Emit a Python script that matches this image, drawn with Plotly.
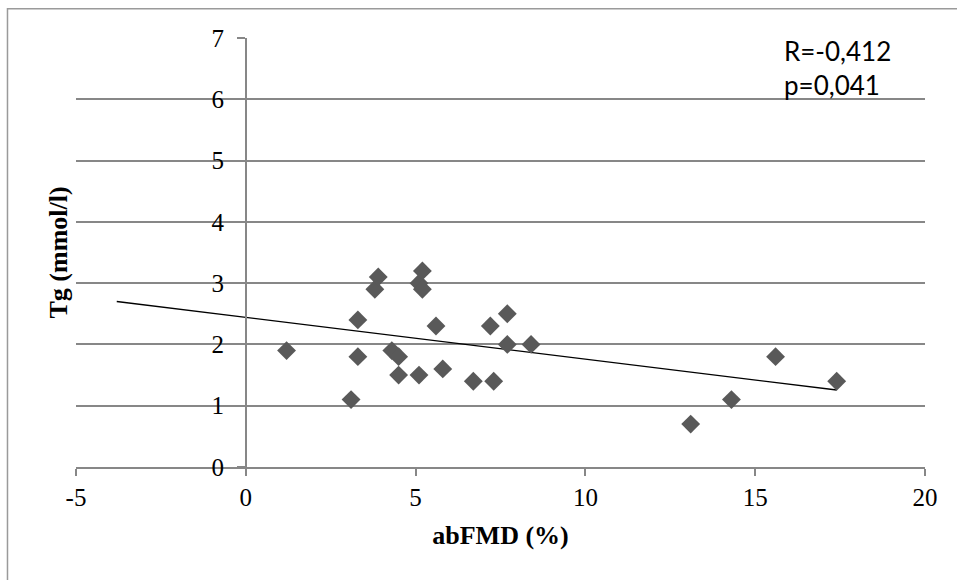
import numpy as np
import plotly.graph_objects as go

abfmd = [1.2, 3.1, 3.3, 3.3, 3.8, 3.9, 4.3, 4.5, 4.5, 5.1, 5.2, 5.2, 5.1,
         5.6, 5.8, 6.7, 7.2, 7.3, 7.7, 7.7, 8.4, 13.1, 14.3, 15.6, 17.4]
tg = [1.9, 1.1, 2.4, 1.8, 2.9, 3.1, 1.9, 1.8, 1.5, 3.0, 3.2, 2.9, 1.5,
      2.3, 1.6, 1.4, 2.3, 1.4, 2.5, 2.0, 2.0, 0.7, 1.1, 1.8, 1.4]
x_ticks = [-5, 0, 5, 10, 15, 20]
x_tick_labels = ["-5", "0", "5", "10", "15", "20"]
y_ticks = [0, 1, 2, 3, 4, 5, 6, 7]
x_title = "<b>abFMD (%)</b>"
y_title = "<b>Tg (mmol/l)</b>"
stats_text = "R=-0,412<br>p=0,041"
backward_forecast = 5

slope, intercept = np.polyfit(abfmd, tg, 1)
tx = np.array([min(abfmd) - backward_forecast, max(abfmd)])
ty = slope * tx + intercept

GRID = "#878787"
fig = go.Figure()
fig.add_trace(go.Scatter(x=tx, y=ty, mode="lines",
                         line=dict(color="black", width=1.4),
                         showlegend=False, hoverinfo="skip"))
fig.add_trace(go.Scatter(x=abfmd, y=tg, mode="markers",
                         marker=dict(symbol="diamond", size=14.5, color="#595959",
                                     line=dict(width=0)),
                         showlegend=False))

fig.update_layout(
    width=957, height=580,
    margin=dict(l=76, r=32, t=38, b=113),
    paper_bgcolor="white", plot_bgcolor="white",
    font=dict(family="Liberation Serif", size=25, color="black"),
    xaxis=dict(range=[-5, 20], tickvals=x_ticks, ticktext=x_tick_labels,
               showgrid=False, zeroline=False,
               showline=True, linecolor=GRID, linewidth=1.5,
               ticks="outside", ticklen=7, tickcolor=GRID, tickwidth=1.5,
               title=dict(text=x_title, font=dict(size=26), standoff=16),
               fixedrange=True),
    yaxis=dict(range=[0, 7], tickvals=y_ticks, showgrid=True, gridcolor=GRID,
               gridwidth=1.5, zeroline=False,
               anchor="free", position=0.2,
               showline=True, linecolor=GRID, linewidth=1.5,
               ticks="outside", ticklen=8, tickcolor=GRID, tickwidth=1.5,
               ticklabelstandoff=8,
               fixedrange=True),
    shapes=[dict(type="rect", xref="paper", yref="paper",
                 x0=-0.0807, x1=1.2, y0=-0.5, y1=1.068,
                 line=dict(color="#9a9a9a", width=1.5), fillcolor="rgba(0,0,0,0)",
                 layer="below")],
    annotations=[
        dict(text=stats_text, xref="paper", yref="paper", x=0.832, y=1.012,
             xanchor="left", yanchor="top", showarrow=False, align="left",
             font=dict(family="Lato", size=26, color="black")),
        dict(text=y_title, xref="paper", yref="paper", x=-0.0212, y=0.5,
             xanchor="center", yanchor="middle", textangle=-90, showarrow=False,
             font=dict(family="Liberation Serif", size=26, color="black")),
    ],
)
fig.write_html("out.html")
